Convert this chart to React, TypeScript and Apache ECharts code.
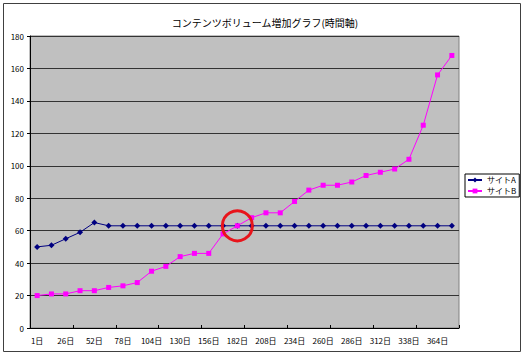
import React, { useEffect, useRef } from "react";
import * as echarts from "echarts";

const categories = [
  "1日", "13日", "26日", "39日", "52日", "65日", "78日", "91日", "104日", "117日",
  "130日", "143日", "156日", "169日", "182日", "195日", "208日", "221日", "234日", "247日",
  "260日", "273日", "286日", "299日", "312日", "325日", "338日", "351日", "364日", "377日",
];

const siteA = [
  50, 51, 55, 59, 65, 63, 63, 63, 63, 63,
  63, 63, 63, 63, 63, 63, 63, 63, 63, 63,
  63, 63, 63, 63, 63, 63, 63, 63, 63, 63,
];

const siteB = [
  20, 21, 21, 23, 23, 25, 26, 28, 35, 38,
  44, 46, 46, 58, 63, 68, 71, 71, 78, 85,
  88, 88, 90, 94, 96, 98, 104, 125, 156, 168,
];

const yTicks = { min: 0, max: 180, interval: 20 };
const highlightIndex = 14;
const highlightValue = 63;

const FONT = "'Noto Sans CJK JP', 'Noto Sans', sans-serif";

export default function App() {
  const ref = useRef<HTMLDivElement>(null);
  useEffect(() => {
    if (!ref.current) return;
    const chart = echarts.init(ref.current, undefined, { renderer: "svg" });
    chart.setOption({
      animation: false,
      backgroundColor: "#ffffff",
      textStyle: { fontFamily: FONT },
      title: {
        text: "コンテンツボリューム増加グラフ(時間軸)",
        left: 260,
        textAlign: "center",
        top: 12,
        textStyle: { fontSize: 10, fontWeight: "normal", color: "#000", fontFamily: FONT },
      },
      graphic: [
        {
          type: "rect",
          shape: { x: 3.5, y: 3.5, width: 517, height: 348 },
          style: { fill: "none", stroke: "#404040", lineWidth: 1 },
          silent: true,
        },
      ],
      legend: {
        orient: "vertical",
        left: 465,
        top: 174,
        width: 60,
        itemWidth: 14,
        itemHeight: 6,
        itemGap: 3,
        padding: [2, 3, 2, 2],
        borderColor: "#000",
        borderWidth: 1,
        textStyle: { fontSize: 8, color: "#000", fontFamily: FONT },
        data: ["サイトA", "サイトB"],
      },
      grid: {
        left: 30,
        top: 36,
        width: 429,
        height: 292,
        show: true,
        backgroundColor: "#C0C0C0",
        borderColor: "#808080",
        borderWidth: 1,
      },
      xAxis: {
        type: "category",
        data: categories,
        boundaryGap: true,
        axisLine: { show: true, lineStyle: { color: "#000", width: 1 } },
        axisTick: { show: true, interval: 2, inside: true, length: 3, lineStyle: { color: "#000" } },
        axisLabel: { interval: 1, fontSize: 8, color: "#000", margin: 8, fontFamily: FONT },
        splitLine: { show: false },
      },
      yAxis: {
        type: "value",
        min: yTicks.min,
        max: yTicks.max,
        interval: yTicks.interval,
        axisLine: { show: true, lineStyle: { color: "#000", width: 1 } },
        axisTick: { show: true, length: 3, lineStyle: { color: "#000" } },
        axisLabel: { fontSize: 8, color: "#000", margin: 6, fontFamily: FONT },
        splitLine: { show: true, lineStyle: { color: "#333", width: 1 } },
      },
      series: [
        {
          name: "サイトA",
          type: "line",
          data: siteA,
          symbol: "diamond",
          symbolSize: 6,
          lineStyle: { color: "#000080", width: 1 },
          itemStyle: { color: "#000080" },
        },
        {
          name: "サイトB",
          type: "line",
          data: siteB,
          symbol: "rect",
          symbolSize: 5,
          lineStyle: { color: "#FF00FF", width: 1 },
          itemStyle: { color: "#FF00FF" },
          markPoint: {
            symbol: "circle",
            symbolSize: 30,
            silent: true,
            label: { show: false },
            itemStyle: { color: "transparent", borderColor: "#E8141B", borderWidth: 3 },
            data: [{ coord: [categories[highlightIndex], highlightValue] }],
          },
        },
      ],
    });
    return () => chart.dispose();
  }, []);
  return (
    <div
      ref={ref}
      style={{ position: "absolute", left: 0, top: 0, width: 526, height: 355, background: "#fff" }}
    />
  );
}
